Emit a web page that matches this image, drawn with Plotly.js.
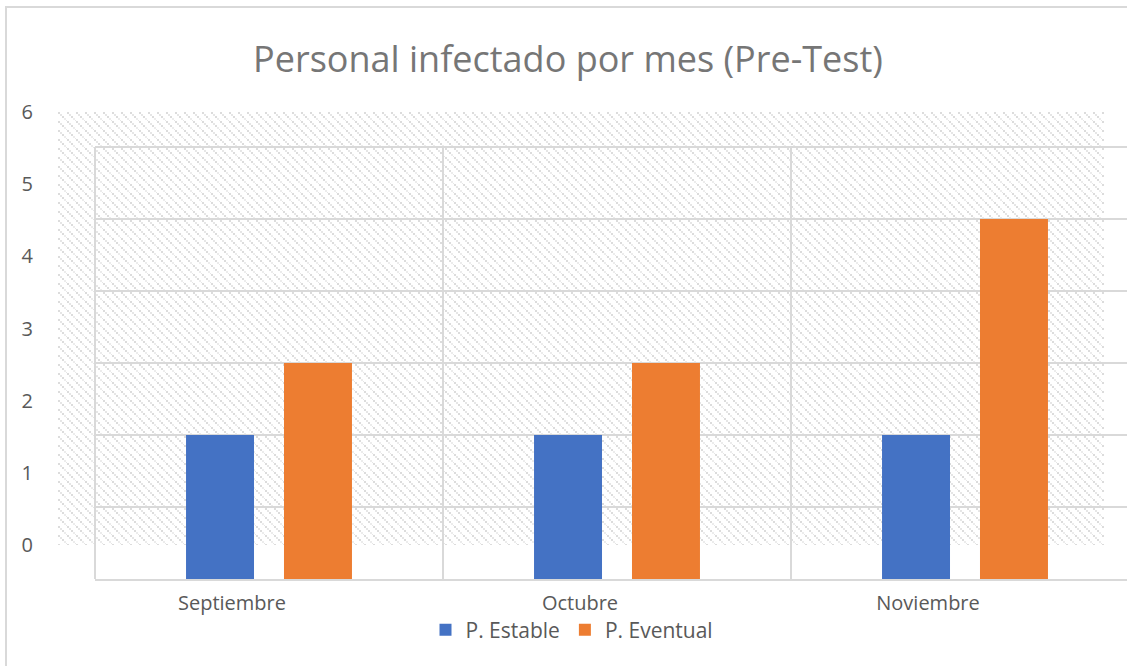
<!DOCTYPE html>
<html><head><meta charset="utf-8">
<script src="https://cdn.plot.ly/plotly-3.0.1.min.js"></script>
<style>html,body{margin:0;padding:0;background:#fff;}#chart{width:1127px;height:666px;}</style>
</head><body><div id="chart"></div>
<script>
const months = ["Septiembre", "Octubre", "Noviembre"];
const estable = [2, 2, 2];
const eventual = [3, 3, 5];
const yTicks = [0, 1, 2, 3, 4, 5, 6];

const W = 1127, H = 666;
const L = 58, R = 0, T = 112, B = 87;
const PW = W - L - R, PH = H - T - B;
const px = v => (v - L) / PW;
const py = v => (H - B - v) / PH;

const grid = '#d9d9d9';
const txt = '#595959';
const fontFam = '"Open Sans", "Noto Sans", sans-serif';

const svg = `<svg xmlns="http://www.w3.org/2000/svg" width="1046" height="433" viewBox="0 0 1046 433" preserveAspectRatio="none"><defs><pattern id="p" width="9" height="9" patternUnits="userSpaceOnUse"><rect width="9" height="9" fill="#ffffff"/><rect x="0" y="0" width="2" height="2" fill="#dcdcdc"/><rect x="2" y="2" width="2" height="2" fill="#e6e6e6"/><rect x="4" y="4" width="2" height="2" fill="#dcdcdc"/><rect x="6" y="6" width="2" height="2" fill="#ececec"/><rect x="8" y="8" width="1" height="1" fill="#e6e6e6"/></pattern></defs><rect width="1046" height="433" fill="url(#p)"/></svg>`;
const src = 'data:image/svg+xml;base64,' + btoa(svg);

const traces = [
  {type: 'bar', name: 'P. Estable', x: months, y: estable, marker: {color: '#4472c4'}, hoverinfo: 'y'},
  {type: 'bar', name: 'P. Eventual', x: months, y: eventual, marker: {color: '#ed7d31'}, hoverinfo: 'y'},
  {type: 'scatter', mode: 'markers', x: [], y: [], xaxis: 'x2', yaxis: 'y2', showlegend: false, hoverinfo: 'skip'}
];

const layout = {
  width: W, height: H,
  margin: {l: L, r: R, t: T, b: B, pad: 0},
  paper_bgcolor: '#ffffff',
  plot_bgcolor: 'rgba(0,0,0,0)',
  font: {family: fontFam, color: txt, size: 17},
  title: {text: 'Personal infectado por mes (Pre-Test)', font: {family: fontFam, size: 36, color: '#767676'},
          x: px(568), xref: 'paper', xanchor: 'center', y: 1 - 59 / H, yref: 'container', yanchor: 'middle'},
  barmode: 'group',
  bargap: 0.437,
  bargroupgap: 0.306,
  showlegend: true,
  legend: {orientation: 'h', x: px(572), xanchor: 'center', y: py(630), yanchor: 'middle',
           font: {size: 21, color: txt}, traceorder: 'normal'},
  xaxis: {domain: [px(95), 1], type: 'category', range: [-0.5, 2.5 - 12 / 348], tickson: 'boundaries', showgrid: true, gridcolor: grid, gridwidth: 2,
          showticklabels: false, ticks: '', showline: true, linecolor: grid, linewidth: 2, fixedrange: true},
  yaxis: {domain: [0, py(147)], range: [0, 6], showgrid: true, gridcolor: grid, gridwidth: 2, dtick: 1,
          showticklabels: false, zeroline: false, showline: false, ticks: '', fixedrange: true},
  xaxis2: {domain: [0, px(1102)], anchor: 'free', position: 0, type: 'linear', range: [-0.5, 2.5],
           tickvals: [0, 1, 2], ticktext: months, showgrid: false, zeroline: false, showline: false,
           ticks: 'outside', ticklen: 6, tickcolor: 'rgba(0,0,0,0)', tickfont: {size: 20, color: txt}, fixedrange: true},
  yaxis2: {domain: [py(545), 1], anchor: 'x2', range: [0, 6], tickvals: yTicks, ticktext: yTicks.map(String),
           showgrid: false, zeroline: false, showline: false, ticks: 'outside', ticklen: 20, tickcolor: 'rgba(0,0,0,0)',
           tickfont: {size: 20, color: txt}, fixedrange: true},
  images: [{source: src, xref: 'paper', yref: 'paper', x: px(58), y: py(112), sizex: px(1104) - px(58), sizey: py(112) - py(545),
            xanchor: 'left', yanchor: 'top', sizing: 'stretch', layer: 'below'}],
  shapes: [
    {type: 'line', xref: 'paper', yref: 'paper', x0: px(6), x1: px(6), y0: py(7), y1: py(666), line: {color: grid, width: 2}},
    {type: 'line', xref: 'paper', yref: 'paper', x0: px(5), x1: px(1127), y0: py(7), y1: py(7), line: {color: grid, width: 2}},
    {type: 'line', xref: 'paper', yref: 'paper', x0: px(95), x1: px(95), y0: py(147), y1: py(579), line: {color: grid, width: 2}, layer: 'below'},
    {type: 'line', xref: 'paper', yref: 'paper', x0: px(95), x1: px(1127), y0: py(147), y1: py(147), line: {color: grid, width: 2}, layer: 'below'}
  ]
};

Plotly.newPlot('chart', traces, layout, {displayModeBar: false, staticPlot: true});
</script></body></html>
